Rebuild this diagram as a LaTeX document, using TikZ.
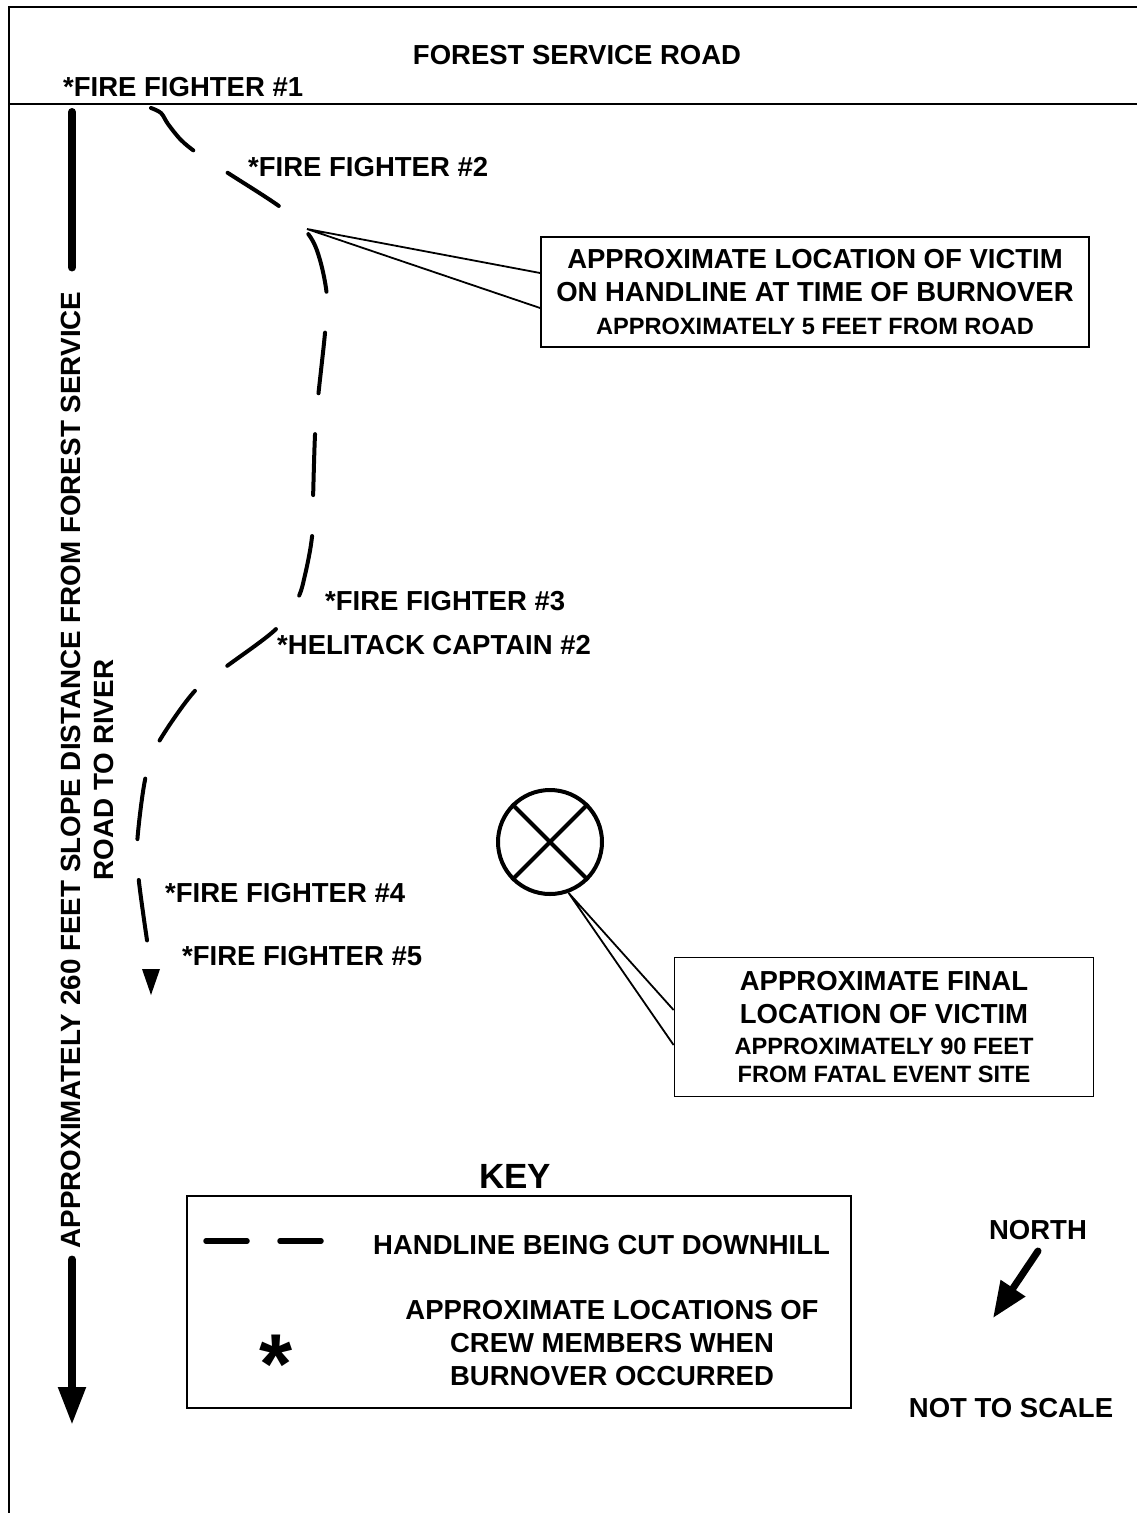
\documentclass[tikz,border=0pt]{standalone}
\usepackage{fontspec}
\setmainfont{Liberation Sans}
\usetikzlibrary{positioning, arrows.meta, calc}

\newcommand{\labfont}{\fontsize{27.5}{33}\selectfont\bfseries}
\newcommand{\subfont}{\fontsize{23.6}{28}\selectfont\bfseries}

\tikzset{
  crew/.style={anchor=west, inner sep=0pt, font=\labfont},
  callbox/.style={draw, line width=1.8pt, fill=white, align=center, font=\labfont, inner sep=0pt},
  handline/.style={line width=4pt, line cap=round, dash pattern=on 61pt off 41pt},
  pointer/.style={line width=1.8pt, line join=miter},
  distline/.style={line width=8pt, line cap=round},
}

\begin{document}
\begin{tikzpicture}[x=1pt, y=-1pt]
  \useasboundingbox (0,0) rectangle (1137,1513);

  % Page frame and road
  \draw[line width=2pt] (1137,7) -- (9,7) -- (9,1513);
  \draw[line width=1.5pt] (9,104) -- (1137,104);
  \node[font=\labfont, inner sep=0pt] (road) at (577,55) {FOREST SERVICE ROAD};

  % Handline being cut downhill
  \draw[handline] plot[smooth, tension=0.55] coordinates {
    (151,108) (161,113) (168,124) (181,140) (197,153) (228,173) (283,209)
    (309,235) (320,260) (327,297) (325,333) (318,398) (315,435) (313,500)
    (312,537) (305,575) (297,600) (275,630) (223,669) (193,693) (157,745)
    (145,780) (137,845) (139,882) (148,947)};
  \fill (142,969) -- (160,969) -- (151,995) -- cycle;

  % Victim on the handline
  \coordinate (victim) at (307,229);
  \node[callbox, minimum width=548pt, minimum height=110pt] (box1) at (815,292)
    {APPROXIMATE LOCATION OF VICTIM\\ON HANDLINE AT TIME OF BURNOVER\\{\subfont APPROXIMATELY 5 FEET FROM ROAD}};
  \draw[pointer] ($(box1.west)+(0,-19)$) -- (victim) -- ($(box1.west)+(0,16)$);

  % Final location of victim
  \node[draw, circle, line width=4pt, minimum size=104pt] (site) at (550,842) {};
  \draw[line width=4pt] (site.45) -- (site.225) (site.135) -- (site.-45);
  \node[callbox, minimum width=419pt, minimum height=139pt] (box2) at (884,1027)
    {APPROXIMATE FINAL\\LOCATION OF VICTIM\\[-2pt]{\subfont APPROXIMATELY 90 FEET}\\[-5pt]{\subfont FROM FATAL EVENT SITE}};
  \draw[pointer] ($(box2.west)+(0,-17)$) -- (site.-70) -- ($(box2.west)+(0,18)$);

  % Crew members
  \node[crew] (ff1) at (63,87) {*FIRE FIGHTER \#1};
  \node[crew] (ff2) at (248,167) {*FIRE FIGHTER \#2};
  \node[crew] (ff3) at (325,601) {*FIRE FIGHTER \#3};
  \node[crew] (hc2) at (277,645) {*HELITACK CAPTAIN \#2};
  \node[crew] (ff4) at (165,893) {*FIRE FIGHTER \#4};
  \node[crew] (ff5) at (182,956) {*FIRE FIGHTER \#5};

  % Slope distance
  \node[rotate=90, align=center, font=\fontsize{27.8}{33}\selectfont\bfseries, inner sep=0pt] (dist) at (87,770)
    {APPROXIMATELY 260 FEET SLOPE DISTANCE FROM FOREST SERVICE\\ROAD TO RIVER};
  \coordinate (dtop) at (72,112);
  \coordinate (dbot) at (72,1425);
  \draw[distline, shorten >=24pt] (dtop) -- (dtop |- dist.east);
  \draw[distline, shorten <=11pt, -{Triangle[length=38pt,width=26pt]}] (dtop |- dist.west) -- (dbot);

  % Key
  \node[draw, line width=1.8pt, minimum width=664pt, minimum height=212pt] (key) at (519,1302) {};
  \node[font=\fontsize{35}{40}\selectfont\bfseries, inner sep=0pt, above=6pt of key, xshift=-4pt] (keytitle) {KEY};
  \draw[line width=5.5pt, line cap=round, dash pattern=on 41pt off 33pt] (206,1241) -- (322,1241);
  \node[crew] (keyhand) at (373,1245) {HANDLINE BEING CUT DOWNHILL};
  \node[font=\fontsize{85}{85}\selectfont\bfseries, inner sep=0pt, anchor=base] (keystar) at (276,1393) {*};
  \node[font=\labfont, align=center, inner sep=0pt] (keycrew) at (612,1343)
    {APPROXIMATE LOCATIONS OF\\CREW MEMBERS WHEN\\BURNOVER OCCURRED};

  % North arrow
  \node[font=\labfont, inner sep=0pt] (north) at (1038,1230) {NORTH};
  \coordinate (ntail) at (1038,1251);
  \coordinate (ntip) at (993,1318);
  \draw[line width=7pt, line cap=round, -{Triangle[length=36pt,width=28pt]}] (ntail) -- (ntip);

  \node[font=\labfont, inner sep=0pt] (scale) at (1011,1408) {NOT TO SCALE};
\end{tikzpicture}
\end{document}
